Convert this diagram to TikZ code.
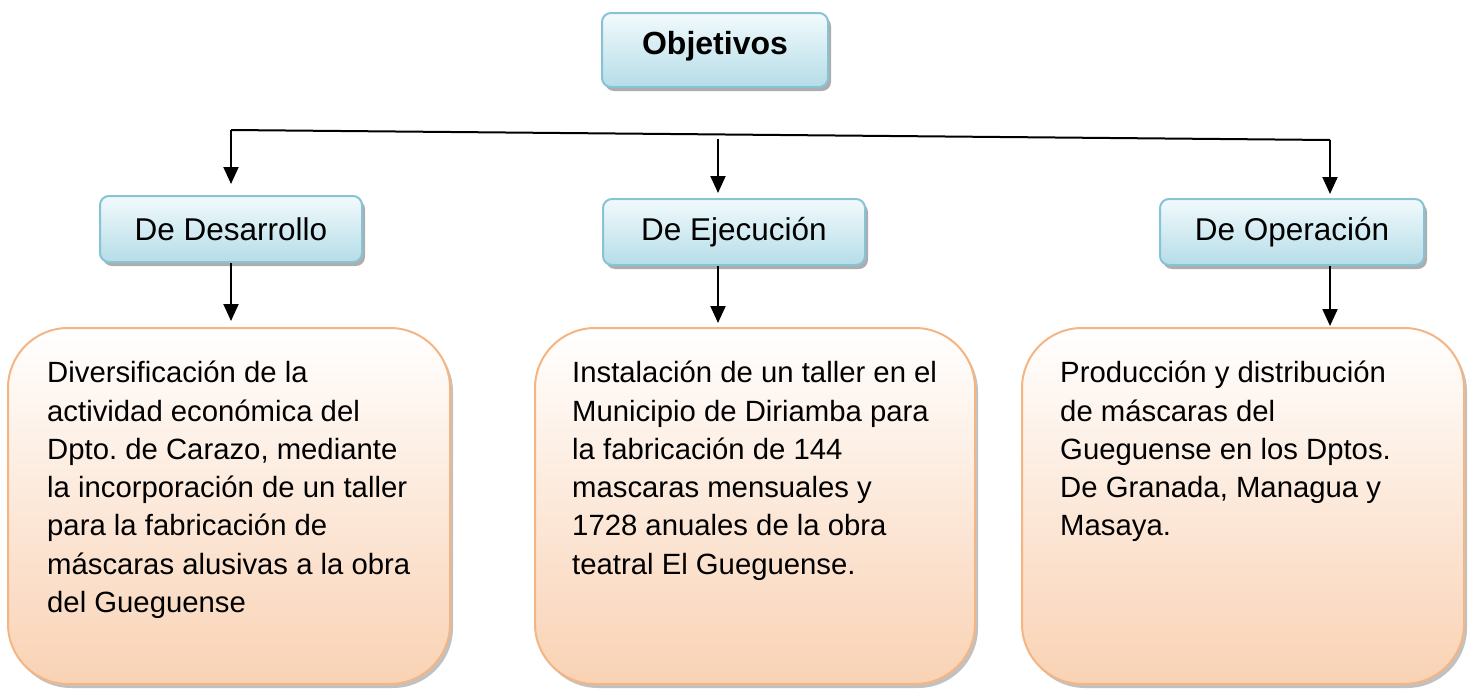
\documentclass[tikz,border=0pt]{standalone}
\usepackage{fontspec}
\setmainfont{Liberation Sans}
\frenchspacing
\usetikzlibrary{arrows.meta,shadows,calc}
\definecolor{bluetop}{HTML}{F2FAFC}
\definecolor{bluebot}{HTML}{B5DDE8}
\definecolor{blueline}{HTML}{86C4D5}
\definecolor{peachtop}{HTML}{FFFFFF}
\definecolor{peachbot}{HTML}{F9D2B4}
\definecolor{peachline}{HTML}{F5B583}
\begin{document}
\begin{tikzpicture}[x=1pt,y=1pt,
  headbox/.style={draw=blueline, line width=2pt, rounded corners=9pt,
    top color=bluetop, bottom color=bluebot,
    drop shadow={shadow xshift=3pt, shadow yshift=-4pt, fill=black!40, opacity=0.8},
    inner sep=0pt, font=\fontsize{31.5}{36}\selectfont},
  objbox/.style={draw=peachline, line width=2pt, rounded corners=60pt,
    top color=peachtop, bottom color=peachbot,
    drop shadow={shadow xshift=3pt, shadow yshift=-4pt, fill=black!30, opacity=0.8},
    inner sep=0pt},
  bodytext/.style={anchor=north west, inner sep=0pt, align=left,
    font=\fontsize{29.3}{38.3}\selectfont},
  conn/.style={line width=2pt, draw=black},
  arr/.style={conn, -{Triangle[length=17pt,width=15pt]}}]
\useasboundingbox (0,0) rectangle (1471,-688);

% top
\node[headbox, minimum width=226, minimum height=74] (obj) at (715,-50) {};
\node[font=\bfseries\fontsize{32}{36}\selectfont, inner sep=0pt] (objt) at (715,-46) {Objetivos};

% second level
\node[headbox, minimum width=262, minimum height=66] (dev) at (231,-229) {De Desarrollo};
\node[headbox, minimum width=262, minimum height=66] (exe) at (734,-232) {De Ejecución};
\node[headbox, minimum width=264, minimum height=66] (ope) at (1292,-232) {De Operación};

% third level
\node[objbox, minimum width=442, minimum height=356] (b1) at (229,-506) {};
\node[objbox, minimum width=440, minimum height=356] (b2) at (755,-506) {};
\node[objbox, minimum width=442, minimum height=356] (b3) at (1243,-506) {};

\node[bodytext] (t1) at (47,-361) {Diversificación de la\\actividad económica del\\Dpto. de Carazo, mediante\\la incorporación de un taller\\para la fabricación de\\máscaras alusivas a la obra\\del Gueguense};
\node[bodytext] (t2) at (572,-361) {Instalación de un taller en el\\Municipio de Diriamba para\\la fabricación de 144\\mascaras mensuales y\\1728 anuales de la obra\\teatral El Gueguense.};
\node[bodytext] (t3) at (1060,-361) {Producción y distribución\\de máscaras del\\Gueguense en los Dptos.\\De Granada, Managua y\\Masaya.};

% connectors
\coordinate (hl) at (231,-130);
\coordinate (hm) at (718,-139);
\coordinate (hr) at (1330,-140);
\draw[conn] (hl) -- (hr);
\draw[arr] (hl) -- (231,-184);
\draw[arr] (hm) -- (718,-193);
\draw[arr] (hr) -- (1330,-194);

\draw[arr] (dev.south) -- (231,-321);
\draw[arr] (exe.south -| hm) -- (718,-323);
\draw[arr] (ope.south -| hr) -- (1330,-326);
\end{tikzpicture}
\end{document}
